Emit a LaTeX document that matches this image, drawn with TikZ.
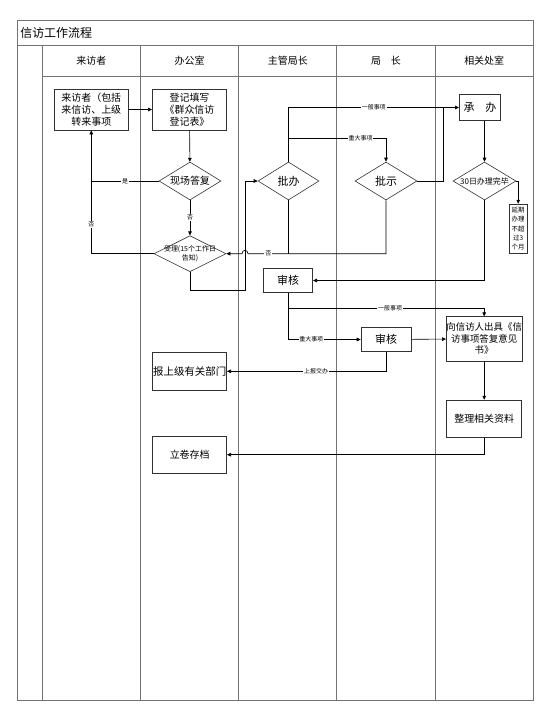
\documentclass[tikz,border=0pt]{standalone}
\usepackage{fontspec}
\setmainfont{Noto Sans CJK SC}
\usetikzlibrary{shapes.geometric,arrows.meta}
\newcommand{\fs}[1]{\fontsize{#1}{1.22\dimexpr#1pt\relax}\selectfont}

\begin{document}
\begin{tikzpicture}[x=1bp,y=-1bp,>={Triangle[length=4bp,width=3.6bp]},line width=.6bp]
        \tikzstyle{every node} = [font=\fs{10}]
        \tikzstyle{frame} = [draw=black!55,line width=.9bp]
        \tikzstyle{box} = [draw=black!80,rectangle,align=center,inner sep=0pt]
        \tikzstyle{dia} = [draw=black!80,diamond,inner sep=0pt,minimum width=62bp,minimum height=38bp]
        \tikzstyle{lbl} = [fill=white,inner sep=.8bp,font=\fs{6}]
        \useasboundingbox (0,0) rectangle (554,714);
        % table
        \draw[frame] (17.3,20.7) rectangle (533.3,700);
        \draw[frame] (17.3,45) -- (533.3,45);
        \draw[frame] (42.3,76) -- (533.3,76);
        \foreach \x in {42.3,140.5,238.7,336.9,435.1}
            \draw[frame] (\x,45) -- (\x,700);
        \node[anchor=west,inner sep=0pt,font=\fs{12}] (title) at (20,33.3) {信访工作流程};
        \foreach \x/\t [count=\i] in {91.4/来访者, 189.6/办公室, 287.8/主管局长, 386/局\quad 长, 484.2/相关处室}
            \node (h\i) at (\x,61) {\t};
        % steps
        \node[box,minimum width=74bp,minimum height=41bp] (lfz) at (91.3,109.5) {来访者（包括\\来信访、上级\\转来事项};
        \node[box,minimum width=74.4bp,minimum height=41bp] (dj) at (189.5,109.5) {登记填写\\《群众信访\\登记表》};
        \node[dia] (xc) at (190,181) {};
        \node (xct) at (xc) {现场答复};
        \node[dia,minimum width=72bp,minimum height=36bp] (sl) at (190,253.7) {};
        \node[align=center,font=\fs{7}] (slt) at (sl) {受理(15个工作日\\告知)};
        \node[dia,minimum width=61bp] (pb) at (288.5,181) {};
        \node[font=\fs{11}] (pbt) at (pb) {批办};
        \node[dia] (ps) at (386,181) {};
        \node[font=\fs{11}] (pst) at (ps) {批示};
        \node[box,minimum width=41.4bp,minimum height=26.4bp,font=\fs{11}] (cb) at (480,107.5) {承\quad 办};
        \node[dia,minimum width=63bp] (wb) at (484.5,181) {};
        \node[font=\fs{8}] (wbt) at (wb) {30日办理完毕};
        \node[box,minimum width=18.3bp,minimum height=49.3bp,font=\fontsize{6.5}{9.3}\selectfont] (yq) at (518.2,228.7) {延期\\办理\\不超\\过3\\个月};
        \node[box,minimum width=49.4bp,minimum height=24.4bp,font=\fs{11}] (sh1) at (288,280.5) {审核};
        \node[box,minimum width=50bp,minimum height=24.4bp,font=\fs{11}] (sh2) at (386,339.5) {审核};
        \node[box,minimum width=75bp,minimum height=44.3bp,font=\fs{9.5}] (xx) at (484.2,338.8) {向信访人出具《信\\访事项答复意见\\书》};
        \node[box,minimum width=75bp,minimum height=37.3bp] (zl) at (484.2,418.7) {整理相关资料};
        \node[box,minimum width=74bp,minimum height=37.3bp,font=\fs{10.5}] (bs) at (189.7,371.3) {报上级有关部门};
        \node[box,minimum width=74bp,minimum height=37.3bp] (lj) at (189.7,454.7) {立卷存档};
        % flow
        \foreach \from/\to in {lfz/dj, dj/xc, sh2/xx, xx/zl}
            \draw[->] (\from) -- (\to);
        \draw[->] (xc) -- node[lbl]{否} (sl);
        \draw[->] (xc.west) -- node[lbl]{是} (xc.west -| lfz.south) -- (lfz.south);
        \draw (sl.west) -| node[lbl,pos=.7]{否} (xc.west -| lfz.south);
        \draw[->] (sl.south) |- ++(55,18.3) |- (pb.west);
        \draw (pb.south) -- (pb.south |- sl.east);
        \draw[->] (ps.south) |- (pb.south |- sl.east) -- node[lbl]{否} ++(-40.5,0)
            .. controls +(0,-4.5) and +(0,-4.5) .. ++(-6,0) -- (sl.east);
        \draw[->] (pb.north) |- node[lbl,pos=.75]{一般事项} (cb.west);
        \draw[->] (pb.north) ++(0,-23.7) -| node[lbl,pos=.37]{重大事项} (ps.north);
        \draw (ps.east) -- ++(25.6,0) -- ++(0,-73.5);
        \draw[->] (wb.north |- cb.south) -- (wb.north);
        \draw[->] (wb.east) -| (yq.north);
        \draw[->] (wb.south) |- (sh1.east);
        \draw[->] (sh1.south) -- ++(0,15.6) -| node[lbl,pos=.26]{一般事项} (xx.north);
        \draw[->] (sh1.south) |- node[lbl,pos=.66]{重大事项} (sh2.west);
        \draw[->] (sh2.south) |- node[lbl,pos=.72]{上报交办} (bs.east);
        \draw[->] (zl.south) |- (lj.east);
    \end{tikzpicture}
\end{document}
